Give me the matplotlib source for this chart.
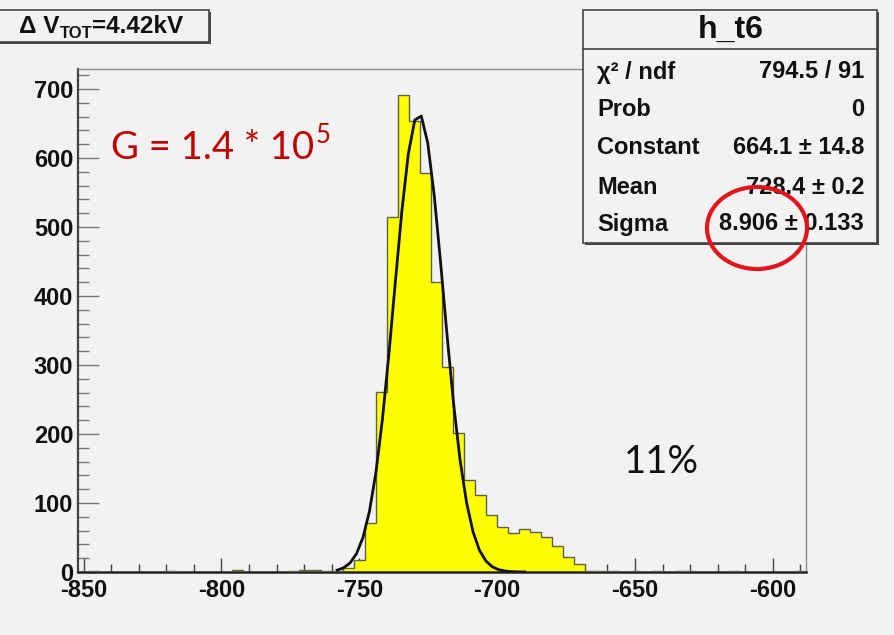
import numpy as np
import matplotlib
matplotlib.use("Agg")
import matplotlib.pyplot as plt
from matplotlib.patches import Rectangle, Ellipse
from matplotlib.lines import Line2D

# ---------------- data ----------------
bin_low = -852.0
bin_width = 4.0
counts = [0, 1, 0, 0, 0, 0, 0, 0, 1, 0,
          0, 0, 0, 0, 3, 0, 0, 0, 0, 1,
          3, 3, 1, 2, 6, 18, 71, 261, 515, 692,
          653, 578, 421, 297, 202, 133, 112, 83, 65, 56,
          62, 58, 51, 38, 22, 12, 2, 2, 1, 0,
          1, 0, 1, 0, 1, 2, 0, 0, 0, 1,
          0, 0, 0, 0, 0, 1]
fit_constant = 664.1
fit_mean = -728.4
fit_sigma = 8.906
fit_range = (-758.0, -690.0)
x_ticks = [-850, -800, -750, -700, -650, -600]
y_ticks = [0, 100, 200, 300, 400, 500, 600, 700]
stat_labels = ["χ² / ndf", "Prob", "Constant", "Mean", "Sigma"]
stat_values = ["794.5 / 91", "0", "664.1 ± 14.8", "728.4 ± 0.2", "8.906 ± 0.133"]
hist_name = "h_t6"

W, H = 894, 635
BG = "#f2f2f2"
fig = plt.figure(figsize=(W / 100, H / 100), dpi=100, facecolor=BG)


def fx(px):
    return px / W


def fy(py):
    return 1 - py / H


ax = fig.add_axes([fx(78), fy(572), fx(806) - fx(78), fy(69) - fy(572)])
ax.set_facecolor(BG)

edges = bin_low + bin_width * np.arange(len(counts) + 1)
ax.stairs(counts, edges, fill=True, color="#ffff00", zorder=2)
ax.stairs(counts, edges, color="#5f5f50", lw=1.0, zorder=3)

xf = np.linspace(fit_range[0], fit_range[1], 30)
yf = fit_constant * np.exp(-0.5 * ((xf - fit_mean) / fit_sigma) ** 2)
ax.plot(xf, yf, color="#111111", lw=2.0, zorder=4)

ax.set_xlim(-852, -588)
ax.set_ylim(0, 729)
ax.set_xticks(x_ticks)
ax.set_xticks(np.arange(-850, -589, 10), minor=True)
ax.set_yticks(y_ticks)
ax.set_yticks(np.arange(0, 721, 20), minor=True)
ax.set_xticklabels([str(v) for v in x_ticks])
ax.set_yticklabels([str(v) for v in y_ticks])
ax.tick_params(axis="x", which="major", direction="in", length=10, width=1.0,
               color="#444444", pad=5)
ax.tick_params(axis="x", which="minor", direction="in", length=5.5, width=1.0,
               color="#444444")
ax.tick_params(axis="y", which="major", direction="in", length=15, width=1.0,
               color="#777777", pad=3.5)
ax.tick_params(axis="y", which="minor", direction="in", length=8, width=1.0,
               color="#777777")
for lab in ax.get_xticklabels() + ax.get_yticklabels():
    lab.set_fontfamily("Liberation Sans")
    lab.set_fontweight("bold")
    lab.set_fontsize(17)
    lab.set_color("#111111")
ax.spines["left"].set_color("#444444")
ax.spines["left"].set_linewidth(1.6)
ax.spines["bottom"].set_color("#222222")
ax.spines["bottom"].set_linewidth(1.8)
ax.spines["top"].set_color("#8a8a8a")
ax.spines["top"].set_linewidth(1.0)
ax.spines["right"].set_color("#8a8a8a")
ax.spines["right"].set_linewidth(1.0)

# ---------------- stat box ----------------
def box(x0, y0, x1, y1, z=6):
    sh = Rectangle((fx(x0 + 2), fy(y1 + 2)), fx(x1) - fx(x0), fy(y0) - fy(y1),
                   transform=fig.transFigure, facecolor="#444444",
                   edgecolor="none", zorder=z)
    fig.add_artist(sh)
    r = Rectangle((fx(x0), fy(y1)), fx(x1) - fx(x0), fy(y0) - fy(y1),
                  transform=fig.transFigure, facecolor=BG,
                  edgecolor="#444444", lw=1.2, zorder=z + 0.1)
    fig.add_artist(r)


box(583, 10, 877, 243)
fig.add_artist(Line2D([fx(583), fx(877)], [fy(49), fy(49)],
                      transform=fig.transFigure, color="#444444", lw=1.2, zorder=7))
fig.text(fx(731), fy(30), hist_name, ha="center", va="center",
         fontfamily="Liberation Sans", fontweight="bold", fontsize=23,
         color="#111111", zorder=8)
rows_y = [72, 110, 148, 187, 224]
for lab, val, yy in zip(stat_labels, stat_values, rows_y):
    fig.text(fx(597), fy(yy), lab, ha="left", va="center",
             fontfamily="Liberation Sans", fontweight="bold", fontsize=17,
             color="#111111", zorder=8)
    fig.text(fx(864), fy(yy), val, ha="right", va="center",
             fontfamily="Liberation Sans", fontweight="bold", fontsize=17,
             color="#111111", zorder=8)

# ---------------- title box ----------------
box(-5, 10, 209, 42)
renderer = fig.canvas.get_renderer()


def seq(pieces, x_start, y_base):
    x = x_start
    for txt, size, dy in pieces:
        t = fig.text(fx(x), fy(y_base + dy), txt, ha="left", va="baseline",
                     fontfamily="Liberation Sans", fontweight="bold",
                     fontsize=size, color="#111111", zorder=8)
        bb = t.get_window_extent(renderer=renderer)
        x += bb.width


seq([("Δ V", 17.5, 0), ("TOT", 12, 5), ("=4.42kV", 17.5, 0)], 19, 33)

# ---------------- annotations ----------------
g = fig.text(fx(111), fy(159), "G = 1.4 * 10", ha="left", va="baseline",
             fontfamily="Lato", fontsize=27.5, color="#c00000", zorder=8)
gb = g.get_window_extent(renderer=renderer)
fig.text(fx(111) + gb.width / W + 1 / W, fy(143), "5", ha="left", va="baseline",
         fontfamily="Lato", fontsize=18.5, color="#c00000", zorder=8)
fig.text(fx(624), fy(473), "11%", ha="left", va="baseline",
         fontfamily="Lato", fontsize=27.5, color="#111111", zorder=8)

ell = Ellipse((fx(757), fy(228)), 100 / W, 82 / H, transform=fig.transFigure,
              facecolor="none", edgecolor="#e3141b", lw=3.0, zorder=12)
fig.add_artist(ell)

fig.savefig("out.png", dpi=100, facecolor=BG)
